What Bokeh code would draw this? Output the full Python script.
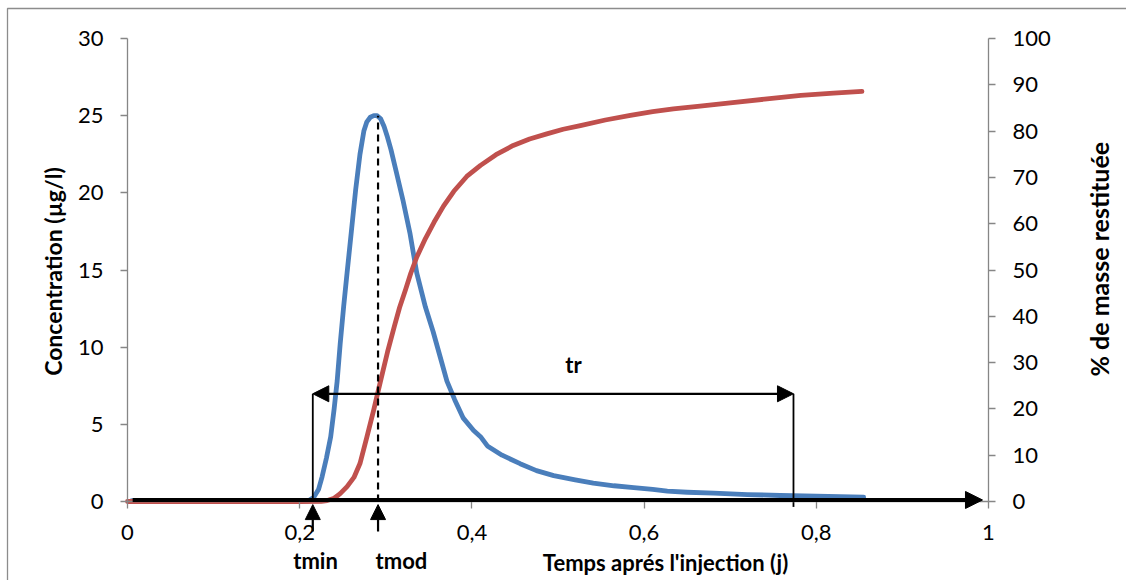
import math
from bokeh.plotting import figure
from bokeh.models import (Range1d, LinearAxis, FixedTicker, CustomJSTickFormatter,
                          Arrow, NormalHead, Label)
from bokeh.embed import file_html
from bokeh.resources import INLINE

# ---- data ----
conc_t = [0.005, 0.05, 0.1, 0.15, 0.2, 0.21, 0.216, 0.222, 0.226, 0.231, 0.236, 0.240, 0.2435,
          0.247, 0.251, 0.255, 0.260, 0.265, 0.270, 0.2745, 0.278, 0.282, 0.286, 0.290, 0.294,
          0.298, 0.302, 0.306, 0.312, 0.320, 0.328, 0.336, 0.346, 0.355, 0.364, 0.371, 0.380,
          0.390, 0.402, 0.41, 0.418, 0.435, 0.456, 0.475, 0.495, 0.52, 0.541, 0.565, 0.588,
          0.61, 0.627, 0.65, 0.681, 0.72, 0.758, 0.80, 0.855]
conc_v = [0.05, 0.05, 0.05, 0.05, 0.05, 0.05, 0.25, 0.8, 1.6, 2.8, 4.2, 6.0, 7.8,
          10.2, 12.6, 14.8, 17.5, 20.2, 22.5, 24.0, 24.6, 24.9, 25.0, 25.0, 24.8,
          24.3, 23.6, 22.8, 21.4, 19.5, 17.4, 14.8, 12.6, 11.0, 9.2, 7.8, 6.6,
          5.4, 4.6, 4.2, 3.6, 3.0, 2.45, 2.0, 1.68, 1.4, 1.19, 1.02, 0.9,
          0.78, 0.67, 0.6, 0.54, 0.45, 0.39, 0.34, 0.28]

mass_t = [0.0, 0.05, 0.1, 0.15, 0.2, 0.225, 0.232, 0.24, 0.247, 0.255, 0.263, 0.27, 0.278,
          0.286, 0.294, 0.302, 0.31, 0.316, 0.323, 0.329, 0.336, 0.346, 0.356, 0.367, 0.379,
          0.394, 0.41, 0.428, 0.448, 0.467, 0.487, 0.506, 0.526, 0.555, 0.584, 0.61, 0.634,
          0.665, 0.70, 0.74, 0.782, 0.82, 0.853]
mass_v = [0, 0, 0, 0, 0, 0.05, 0.2, 0.7, 1.7, 3.2, 5.2, 8.2, 13.9,
          19.8, 26.1, 32.3, 37.9, 41.9, 45.8, 49.3, 52.8, 56.8, 60.3, 63.8, 67.0,
          70.2, 72.6, 74.9, 76.9, 78.3, 79.4, 80.4, 81.2, 82.4, 83.4, 84.2, 84.8,
          85.4, 86.1, 86.9, 87.7, 88.2, 88.6]

x_ticks = [0, 0.2, 0.4, 0.6, 0.8, 1]
left_ticks = [0, 5, 10, 15, 20, 25, 30]
right_ticks = [0, 10, 20, 30, 40, 50, 60, 70, 80, 90, 100]

t_min = 0.2152
t_mod = 0.2910
t_end = 0.7735
tr_level = 6.98
peak = 25.0

FONT = "Lato"
AXIS_COL = "#868686"

W, H = 1126, 580
LEFT, TOP, PW, PH = 127, 38, 861, 463      # where the x=0..1 / y=0..30 box sits
X0 = -LEFT / PW
X1 = (W - LEFT) / PW
Y1 = 30 * (TOP + PH) / PH
Y0 = -30 * (H - TOP - PH) / PH

p = figure(width=W, height=H, output_backend="svg", toolbar_location=None,
           x_range=Range1d(X0, X1), y_range=Range1d(Y0, Y1),
           min_border=0, x_axis_location=None, y_axis_location=None)
p.extra_y_ranges = {"pct": Range1d(Y0 * 100 / 30, Y1 * 100 / 30)}
p.outline_line_color = None
p.grid.visible = False
p.background_fill_color = "white"
p.border_fill_color = "white"

# chart-area border (left and top edges visible in the reference)
bx = (7 - LEFT) / PW
by = 30 * (TOP + PH - 8) / PH
p.line([bx, bx, X1], [Y0, by, by], line_color="#8c8c8c", line_width=1.3)

fmt = CustomJSTickFormatter(code="return tick.toFixed(1).replace('.', ',').replace(',0', '');")

def style_axis(ax, standoff):
    ax.axis_line_color = AXIS_COL
    ax.axis_line_width = 1.3
    ax.major_tick_line_color = AXIS_COL
    ax.major_tick_line_width = 1.3
    ax.major_tick_in = 0
    ax.major_tick_out = 7
    ax.minor_tick_line_color = None
    ax.major_label_text_font = FONT
    ax.major_label_text_font_size = "22px"
    ax.major_label_text_color = "black"
    ax.major_label_standoff = standoff

xa = LinearAxis(ticker=FixedTicker(ticks=x_ticks), formatter=fmt, fixed_location=0, bounds=(0, 1))
style_axis(xa, 16)
p.add_layout(xa, "below")

ya = LinearAxis(ticker=FixedTicker(ticks=left_ticks), fixed_location=0, bounds=(0, 30))
style_axis(ya, 17)
p.add_layout(ya, "left")

ra = LinearAxis(y_range_name="pct", ticker=FixedTicker(ticks=right_ticks), fixed_location=1,
                bounds=(0, 100))
style_axis(ra, 17)
p.add_layout(ra, "right")

# curves
p.line(conc_t, conc_v, line_color="#4a7ebb", line_width=4.8, line_join="round", line_cap="round")
p.line(mass_t, mass_v, line_color="#c0504d", line_width=4.8, line_join="round", line_cap="round",
       y_range_name="pct")

# black baseline arrow
p.add_layout(Arrow(x_start=0.006, y_start=0.1, x_end=0.993, y_end=0.1, line_color="black",
                   line_width=4, end=NormalHead(size=17, fill_color="black", line_color="black")))

# tmod dashed line
p.segment(x0=[t_mod], y0=[0], x1=[t_mod], y1=[peak], line_color="black", line_width=2.2,
          line_dash="7 5")

# tr verticals
p.segment(x0=[t_min, t_end], y0=[0, -0.35], x1=[t_min, t_end], y1=[tr_level, tr_level],
          line_color="black", line_width=1.8)

# tr double arrow
p.add_layout(Arrow(x_start=t_min, y_start=tr_level, x_end=t_end, y_end=tr_level,
                   line_color="black", line_width=2.2,
                   start=NormalHead(size=16, fill_color="black", line_color="black"),
                   end=NormalHead(size=16, fill_color="black", line_color="black")))

# tmin / tmod arrows below axis
for xv in (t_min, t_mod):
    p.add_layout(Arrow(x_start=xv, y_start=-1.95, x_end=xv, y_end=-0.2, line_color="black",
                       line_width=2.2, end=NormalHead(size=15, fill_color="black", line_color="black")))

def lab(x, y, txt, size="22px", angle=0.0):
    p.add_layout(Label(x=x, y=y, text=txt, text_font=FONT, text_font_style="bold",
                       text_font_size=size, text_align="center", text_baseline="middle",
                       text_color="black", angle=angle))

lab(0.518, 8.85, "tr", "22px")
lab(0.2184, -3.82, "tmin")
lab(0.3182, -3.82, "tmod")
lab(0.6249, -3.95, "Temps aprés l'injection (j)")
lab(-0.0871, 14.9, "Concentration (µg/l)", "23px", math.pi / 2)
lab(1.1278, 15.7, "% de masse restituée", "25px", math.pi / 2)

open("out.html", "w").write(file_html(p, INLINE))
